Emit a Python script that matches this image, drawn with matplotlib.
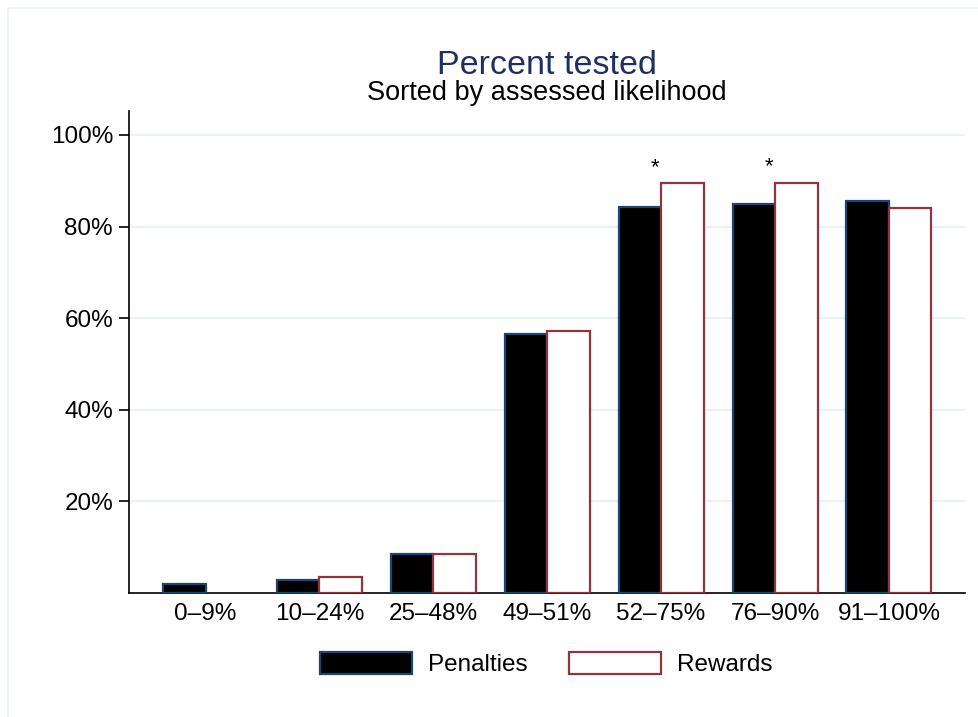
import numpy as np
import matplotlib
matplotlib.use("Agg")
import matplotlib.pyplot as plt
from matplotlib.patches import Rectangle

plt.rcParams['font.family'] = ['Liberation Sans', 'DejaVu Sans']

# percent tested, grouped by assessed likelihood
groups = ['0\u20139%', '10\u201324%', '25\u201348%', '49\u201351%', '52\u201375%', '76\u201390%', '91\u2013100%']
penalties = [2.0, 2.8, 8.5, 56.5, 84.3, 84.9, 85.5]
rewards = [0.0, 3.5, 8.5, 57.3, 89.5, 89.6, 84.0]
signif = [False, False, False, False, True, True, False]
yticks = [20, 40, 60, 80, 100]

navy = '#1a476f'
title_c = '#1f3060'
maroon = '#90353b'
grid_c = '#eaf2f3'

fig = plt.figure(figsize=(9.79, 7.17), dpi=100)
# outer frame
fig.patches.append(Rectangle((8 / 979, -0.1), 1.2, 1 - 8 / 717 + 0.1, transform=fig.transFigure,
                             fill=False, edgecolor=grid_c, lw=1.2))
ax = fig.add_axes([129 / 979, 1 - 593 / 717, 836 / 979, (593 - 110.7) / 717])

x = np.arange(len(groups))
w = 0.373
ax.bar(x - w / 2, penalties, w, color='black', edgecolor=navy, lw=1.6, label='Penalties', zorder=3)
rw = [v if v > 0 else np.nan for v in rewards]
ax.bar(x + w / 2, rw, w, color='white', edgecolor=maroon, lw=1.6, label='Rewards', zorder=3)

for i, s in enumerate(signif):
    if s:
        top = max(penalties[i], rewards[i])
        ax.text(x[i] - 0.05, top + 3.4, '*', ha='center', va='center', fontsize=16)

ax.set_xlim(-0.672, len(groups) - 1 + 0.668)
ax.set_ylim(0, 105.3)
ax.set_yticks(yticks)
ax.set_yticklabels([f'{t}%' for t in yticks])
ax.set_xticks(x)
ax.set_xticklabels(groups)
ax.tick_params(axis='x', length=0, pad=7, labelsize=17.5)
ax.tick_params(axis='y', length=7, width=1.2, pad=4.5, labelsize=17.5)
ax.yaxis.grid(True, color=grid_c, lw=1.5, zorder=0)
ax.set_axisbelow(True)
for side in ['top', 'right']:
    ax.spines[side].set_visible(False)
for side in ['left', 'bottom']:
    ax.spines[side].set_linewidth(1.2)

fig.text(547 / 979, 1 - 65 / 717, 'Percent tested', ha='center', va='center',
         fontsize=24.5, color=title_c)
fig.text(547 / 979, 1 - 93 / 717, 'Sorted by assessed likelihood', ha='center', va='center',
         fontsize=19.5, color='black')

leg = fig.legend(loc='center', bbox_to_anchor=(546 / 979, 1 - 664 / 717), ncol=2,
                 frameon=False, fontsize=17.5, handlelength=3.8, handleheight=1.0,
                 handletextpad=0.65, columnspacing=1.7)

fig.savefig('out.png', dpi=100)
